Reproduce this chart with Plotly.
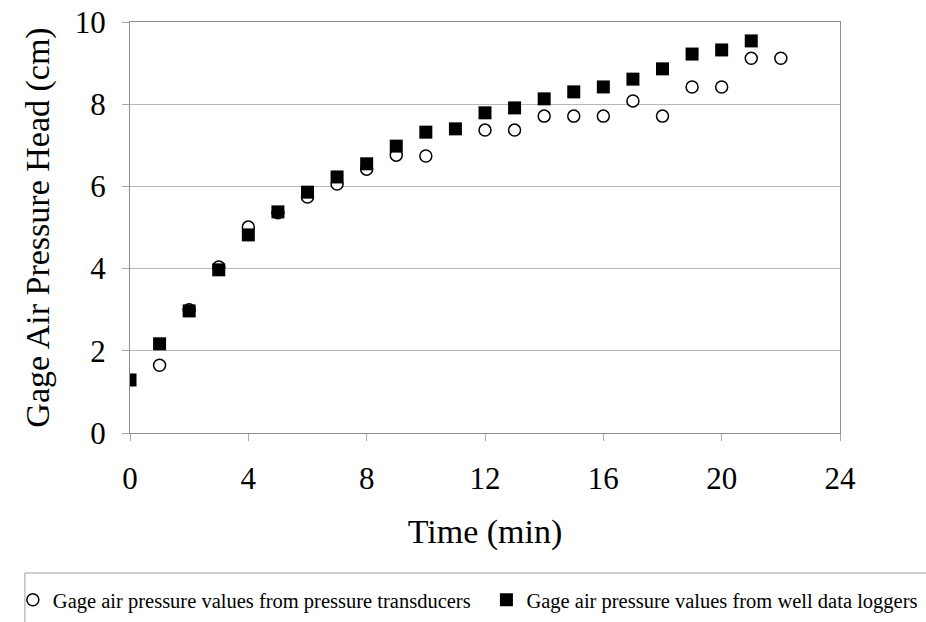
import plotly.graph_objects as go

# Time (min) for each series
time_transducers = [1, 2, 3, 4, 5, 6, 7, 8, 9, 10, 12, 13, 14, 15, 16, 17, 18, 19, 20, 21, 22]
head_transducers = [1.65, 3.0, 4.04, 5.01, 5.36, 5.74, 6.06, 6.42, 6.76, 6.74, 7.37, 7.37,
                    7.71, 7.71, 7.71, 8.08, 7.71, 8.42, 8.42, 9.12, 9.12]

time_loggers = [0, 1, 2, 3, 4, 5, 6, 7, 8, 9, 10, 11, 12, 13, 14, 15, 16, 17, 18, 19, 20, 21]
head_loggers = [1.29, 2.17, 2.97, 3.97, 4.82, 5.38, 5.86, 6.23, 6.55, 6.98, 7.32, 7.40,
                7.79, 7.91, 8.13, 8.30, 8.42, 8.61, 8.86, 9.22, 9.32, 9.54]

x_ticks = [0, 4, 8, 12, 16, 20, 24]
y_ticks = [0, 2, 4, 6, 8, 10]

serif = "Liberation Serif, Times New Roman, serif"

fig = go.Figure()
fig.add_trace(go.Scatter(
    x=time_transducers, y=head_transducers, mode="markers",
    name="Gage air pressure values from pressure transducers",
    marker=dict(symbol="circle", size=12, color="white",
                line=dict(color="black", width=1.5)),
    legend="legend",
))
fig.add_trace(go.Scatter(
    x=time_loggers, y=head_loggers, mode="markers",
    name="Gage air pressure values from well data loggers",
    marker=dict(symbol="square", size=13, color="black",
                line=dict(color="black", width=0)),
    legend="legend2",
))

axis_common = dict(
    showline=True, linecolor="#8c8c8c", linewidth=1.3, mirror=True,
    ticks="outside", ticklen=7, tickcolor="#a8a8a8", tickwidth=1,
    tickfont=dict(family=serif, size=31, color="black"),
    zeroline=False,
)

fig.update_xaxes(
    range=[0, 24], tickvals=x_ticks, showgrid=False, ticklabelstandoff=11,
    title=dict(text="Time (min)", font=dict(family=serif, size=34, color="black"), standoff=23),
    **axis_common,
)
fig.update_yaxes(
    range=[0, 10], tickvals=y_ticks, showgrid=True, gridcolor="#b8b8b8", gridwidth=1.3,
    ticklabelstandoff=10,
    title=dict(text="Gage Air Pressure Head (cm)", font=dict(family=serif, size=34, color="black"),
               standoff=14),
    **axis_common,
)

legend_style = dict(
    orientation="h", yanchor="middle", y=-0.406, xanchor="left",
    borderwidth=0, bgcolor="rgba(0,0,0,0)", itemwidth=30,
    font=dict(family=serif, size=20.5, color="black"),
    itemclick=False,
)

fig.update_layout(
    width=926, height=622,
    margin=dict(l=130, r=86, t=22, b=189, autoexpand=False),
    paper_bgcolor="white", plot_bgcolor="white",
    showlegend=True,
    legend=dict(x=-0.165, **legend_style),
    legend2=dict(x=0.502, **legend_style),
    shapes=[dict(
        type="rect", xref="paper", yref="paper",
        x0=-0.148, x1=1.13, y0=-0.47, y1=-0.3406,
        line=dict(color="#a0a0a0", width=1), fillcolor="rgba(0,0,0,0)", layer="below",
    )],
)

fig.write_html("out.html")
